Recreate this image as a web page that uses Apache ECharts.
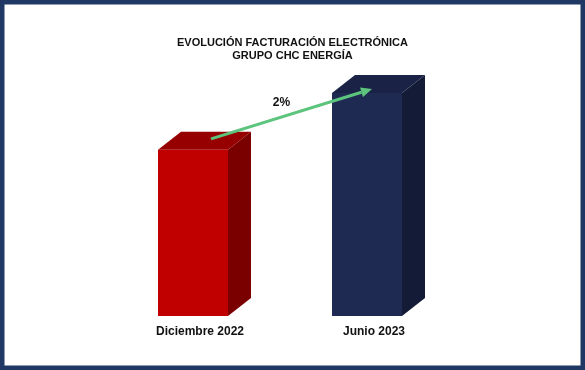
<!DOCTYPE html>
<html><head><meta charset="utf-8">
<script src="https://cdn.jsdelivr.net/npm/echarts@6/dist/echarts.min.js"></script>
<style>html,body{margin:0;padding:0;background:#fff}#c{width:585px;height:370px}</style>
</head><body><div id="c"></div>
<script>
const categorias = ['Diciembre 2022', 'Junio 2023'];
const valores = [74.5, 100];
const variacion = '2%';
const tituloLineas = ['EVOLUCIÓN FACTURACIÓN ELECTRÓNICA', 'GRUPO CHC ENERGÍA'];

const colores = [
  {front: '#C00000', top: '#960000', side: '#7A0000'},
  {front: '#1F2A52', top: '#1A2345', side: '#141B36'}
];
const FONT = '"Liberation Sans", Arial, sans-serif';
const chart = echarts.init(document.getElementById('c'), null, {renderer: 'canvas'});

function cuboid(params, api) {
  const i = params.dataIndex;
  const p = api.coord([api.value(0), api.value(1)]);
  const base = api.coord([api.value(0), 0]);
  const w = 70, dx = 23, dy = 18;
  const x0 = p[0] - 42, x1 = x0 + w;
  const yt = p[1], yb = base[1];
  const c = colores[i];
  return {type: 'group', children: [
    {type: 'polygon', shape: {points: [[x1, yt], [x1 + dx, yt - dy], [x1 + dx, yb - dy], [x1, yb]]}, style: {fill: c.side}},
    {type: 'polygon', shape: {points: [[x0, yt], [x0 + dx, yt - dy], [x1 + dx, yt - dy], [x1, yt]]}, style: {fill: c.top}},
    {type: 'rect', shape: {x: x0, y: yt, width: w, height: yb - yt}, style: {fill: c.front}}
  ]};
}

function arrow(params, api) {
  if (params.dataIndex !== 0) return null;
  const a = api.coord([0, valores[0]]);
  const b = api.coord([1, valores[1]]);
  const s = [a[0] + 11, a[1] - 11];
  const e = [b[0] - 2, b[1] - 4];
  const ang = Math.atan2(e[1] - s[1], e[0] - s[0]);
  const L = 11, H = 5;
  const bx = e[0] - L * Math.cos(ang), by = e[1] - L * Math.sin(ang);
  const nx = -Math.sin(ang), ny = Math.cos(ang);
  const mx = (s[0] + e[0]) / 2, my = (s[1] + e[1]) / 2;
  return {type: 'group', children: [
    {type: 'line', shape: {x1: s[0], y1: s[1], x2: bx, y2: by}, style: {stroke: '#5CC47C', lineWidth: 3}},
    {type: 'polygon', shape: {points: [[e[0], e[1]], [bx + nx * H, by + ny * H], [bx - nx * H, by - ny * H]]}, style: {fill: '#5CC47C'}},
    {type: 'text', x: mx - 10, y: my - 11, style: {text: variacion, font: 'bold 12px ' + FONT, fill: '#111', align: 'center', verticalAlign: 'middle'}}
  ]};
}

chart.setOption({
  backgroundColor: '#fff',
  animation: false,
  title: {
    text: tituloLineas.join('\n'), left: 'center', top: 32,
    textStyle: {fontFamily: FONT, fontSize: 11, fontWeight: 'bold', color: '#111', lineHeight: 12.5}
  },
  graphic: [{type: 'rect', shape: {x: 2.25, y: 2.25, width: 580.5, height: 365.5}, style: {fill: 'none', stroke: '#1F3864', lineWidth: 4.5}, silent: true}],
  grid: {left: 113, right: 124, top: 93, bottom: 54},
  xAxis: {type: 'category', data: categorias, axisLine: {show: false}, axisTick: {show: false},
    axisLabel: {fontFamily: FONT, fontSize: 12, fontWeight: 'bold', color: '#111', margin: 10}},
  yAxis: {type: 'value', min: 0, max: 100, show: false, splitLine: {show: false}},
  series: [
    {type: 'custom', renderItem: cuboid, data: categorias.map((c, i) => [i, valores[i]]), z: 2},
    {type: 'custom', renderItem: arrow, data: categorias.map((c, i) => [i, valores[i]]), z: 3}
  ]
});
</script></body></html>
